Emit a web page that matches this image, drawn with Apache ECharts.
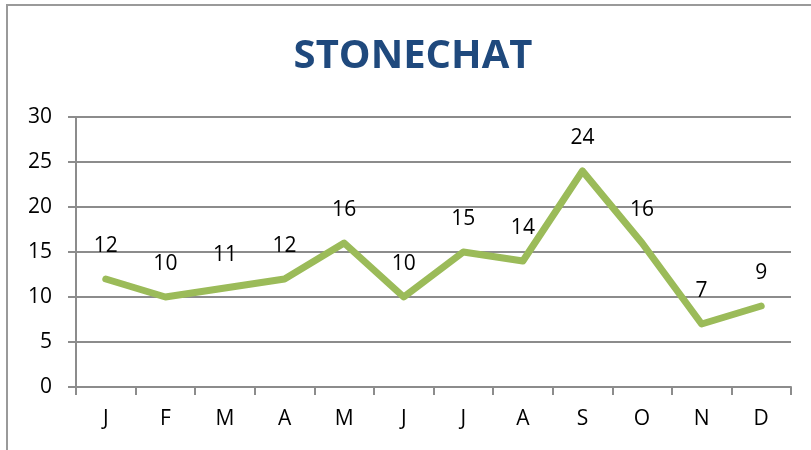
<!DOCTYPE html>
<html>
<head>
<meta charset="utf-8">
<script src="https://cdn.jsdelivr.net/npm/echarts@6/dist/echarts.min.js"></script>
<style>
  html, body { margin: 0; padding: 0; background: #fff; }
  #chart { width: 811px; height: 450px; }
</style>
</head>
<body>
<div id="chart"></div>
<script>
const months = ['J', 'F', 'M', 'A', 'M', 'J', 'J', 'A', 'S', 'O', 'N', 'D']
const counts = [12, 10, 11, 12, 16, 10, 15, 14, 24, 16, 7, 9]

const chart = echarts.init(document.getElementById('chart'))
const axisGray = '#8c8c8c'
const labelFont = { color: '#000', fontSize: 21, fontFamily: 'Open Sans' }

const option = {
  animation: false,
  graphic: [
    {
      type: 'rect',
      shape: { x: 7, y: 5, width: 900, height: 600 },
      style: { fill: 'none', stroke: '#9a9a9a', lineWidth: 2 },
      silent: true
    },
    {
      // chart title
      type: 'text',
      x: 413,
      y: 57,
      style: {
        text: 'STONECHAT',
        fill: '#1f497d',
        font: 'bold 40px "Open Sans"',
        align: 'center',
        verticalAlign: 'middle'
      },
      silent: true
    }
  ],
  grid: { left: 76, right: 20, top: 117, bottom: 63 },
  xAxis: {
    type: 'category',
    data: months,
    boundaryGap: true,
    axisLine: { lineStyle: { color: axisGray, width: 2 } },
    axisTick: { show: true, length: 8, lineStyle: { color: axisGray, width: 2 } },
    axisLabel: Object.assign({ margin: 22 }, labelFont)
  },
  yAxis: {
    type: 'value',
    min: 0,
    max: 30,
    interval: 5,
    axisLine: { show: true, lineStyle: { color: axisGray, width: 2 } },
    axisTick: { show: true, length: 8, lineStyle: { color: axisGray, width: 2 } },
    axisLabel: Object.assign({ margin: 24 }, labelFont),
    splitLine: { lineStyle: { color: axisGray, width: 2 } }
  },
  series: [
    {
      type: 'line',
      data: counts,
      symbol: 'circle',
      symbolSize: 2,
      showSymbol: true,
      showAllSymbol: true,
      itemStyle: { color: 'rgba(155,187,89,0)', borderWidth: 0 },
      lineStyle: { color: '#9bbb59', width: 7, cap: 'round', join: 'round' },
      label: Object.assign({ show: true, position: 'top', distance: 21 }, labelFont)
    }
  ]
}
chart.setOption(option)
</script>
</body>
</html>
